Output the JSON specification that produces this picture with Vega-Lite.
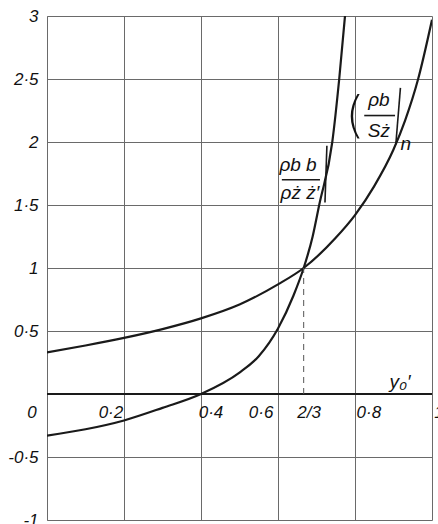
{
  "$schema": "https://vega.github.io/schema/vega-lite/v6.json",
  "width": 385,
  "height": 504,
  "autosize": {"type": "none"},
  "padding": {"left": 47, "top": 16, "right": 6, "bottom": 4},
  "background": "white",
  "config": {"view": {"stroke": null}, "font": "Liberation Sans"},
  "datasets": {
    "curves": [
      {"series": "n", "x": 0, "y": 0.33},
      {"series": "n", "x": 0.1, "y": 0.385},
      {"series": "n", "x": 0.2, "y": 0.445},
      {"series": "n", "x": 0.3, "y": 0.515},
      {"series": "n", "x": 0.4, "y": 0.6},
      {"series": "n", "x": 0.5, "y": 0.71},
      {"series": "n", "x": 0.6, "y": 0.87},
      {"series": "n", "x": 0.6667, "y": 1.0},
      {"series": "n", "x": 0.75, "y": 1.24},
      {"series": "n", "x": 0.8, "y": 1.42},
      {"series": "n", "x": 0.85, "y": 1.65},
      {"series": "n", "x": 0.9, "y": 1.94},
      {"series": "n", "x": 0.93, "y": 2.17},
      {"series": "n", "x": 0.964, "y": 2.5},
      {"series": "n", "x": 1.0, "y": 2.97},
      {"series": "b", "x": 0, "y": -0.33},
      {"series": "b", "x": 0.1, "y": -0.28},
      {"series": "b", "x": 0.2, "y": -0.21},
      {"series": "b", "x": 0.3, "y": -0.11},
      {"series": "b", "x": 0.4, "y": 0.0},
      {"series": "b", "x": 0.5, "y": 0.17},
      {"series": "b", "x": 0.55, "y": 0.3},
      {"series": "b", "x": 0.6, "y": 0.52},
      {"series": "b", "x": 0.64, "y": 0.78},
      {"series": "b", "x": 0.6667, "y": 1.0},
      {"series": "b", "x": 0.69, "y": 1.25},
      {"series": "b", "x": 0.707, "y": 1.5},
      {"series": "b", "x": 0.741, "y": 2.0},
      {"series": "b", "x": 0.759, "y": 2.5},
      {"series": "b", "x": 0.774, "y": 3.0}
    ],
    "xlabels": [
      {"x": -0.039, "t": "0"},
      {"x": 0.166, "t": "0·2"},
      {"x": 0.426, "t": "0·4"},
      {"x": 0.556, "t": "0·6"},
      {"x": 0.681, "t": "2/3"},
      {"x": 0.836, "t": "0·8"},
      {"x": 1.018, "t": "1"}
    ],
    "formula": [
      {"x": 0.652, "y": 1.82, "t": "ρb b"},
      {"x": 0.657, "y": 1.595, "t": "ρż ż′"},
      {"x": 0.862, "y": 2.335, "t": "ρb"},
      {"x": 0.862, "y": 2.087, "t": "Sż"},
      {"x": 0.932, "y": 1.985, "t": "n"},
      {"x": 0.917, "y": 0.095, "t": "y₀′"}
    ],
    "paren": [
      {"x": 0.8, "y": 2.2, "t": "("}
    ],
    "strokes": [
      {"x": 0.61, "x2": 0.709, "y": 1.7, "y2": 1.7},
      {"x": 0.824, "x2": 0.904, "y": 2.21, "y2": 2.21},
      {"x": 0.727, "x2": 0.722, "y": 1.97, "y2": 1.52},
      {"x": 0.918, "x2": 0.906, "y": 2.43, "y2": 1.98},
      {"x": 0.88, "x2": 0.96, "y": 0.0, "y2": 0.0}
    ]
  },
  "layer": [
    {
      "data": {"name": "curves"},
      "mark": {"type": "line", "interpolate": "monotone", "strokeWidth": 2.2, "color": "#1a1a1a", "clip": true},
      "encoding": {
        "x": {
          "field": "x", "type": "quantitative",
          "scale": {"domain": [0, 1], "nice": false, "zero": false},
          "axis": {
            "values": [0, 0.2, 0.4, 0.6, 0.8, 1],
            "grid": true, "gridColor": "#6a6a6a", "gridWidth": 1,
            "labels": false, "ticks": false, "domain": false, "title": null
          }
        },
        "y": {
          "field": "y", "type": "quantitative",
          "scale": {"domain": [-1, 3], "nice": false, "zero": false},
          "axis": {
            "values": [-1, -0.5, 0, 0.5, 1, 1.5, 2, 2.5, 3],
            "grid": true, "gridColor": "#6a6a6a", "gridWidth": 1,
            "ticks": false, "domain": true, "domainColor": "#6a6a6a",
            "title": null,
            "labelExpr": "datum.value == 0 ? '' : replace(replace(format(datum.value, '.1~f'), '.', '·'), '−', '-')",
            "labelFont": "Liberation Sans", "labelFontStyle": "italic",
            "labelFontSize": 17, "labelColor": "#111", "labelPadding": 9
          }
        },
        "detail": {"field": "series", "type": "nominal"}
      }
    },
    {
      "data": {"values": [{}]},
      "mark": {"type": "rule", "color": "#1a1a1a", "strokeWidth": 2},
      "encoding": {"y": {"datum": 0}}
    },
    {
      "data": {"values": [{}]},
      "mark": {"type": "rule", "color": "#555", "strokeWidth": 1, "strokeDash": [6, 5]},
      "encoding": {"x": {"datum": 0.6667}, "y": {"datum": 0}, "y2": {"datum": 1}}
    },
    {
      "data": {"name": "strokes"},
      "mark": {"type": "rule", "color": "#1a1a1a", "strokeWidth": 1.6},
      "encoding": {
        "x": {"field": "x", "type": "quantitative"},
        "x2": {"field": "x2"},
        "y": {"field": "y", "type": "quantitative"},
        "y2": {"field": "y2"}
      }
    },
    {
      "data": {"name": "xlabels"},
      "mark": {"type": "text", "font": "Liberation Sans", "fontStyle": "italic", "fontSize": 17, "color": "#111", "align": "center", "baseline": "middle"},
      "encoding": {
        "x": {"field": "x", "type": "quantitative"},
        "y": {"datum": -0.15},
        "text": {"field": "t"}
      }
    },
    {
      "data": {"name": "formula"},
      "mark": {"type": "text", "font": "Liberation Sans", "fontStyle": "italic", "fontSize": 19, "color": "#111", "align": "center", "baseline": "middle"},
      "encoding": {
        "x": {"field": "x", "type": "quantitative"},
        "y": {"field": "y", "type": "quantitative"},
        "text": {"field": "t"}
      }
    },
    {
      "data": {"name": "paren"},
      "mark": {"type": "text", "font": "DejaVu Sans", "fontSize": 50, "fontWeight": 200, "color": "#111", "align": "center", "baseline": "middle"},
      "encoding": {
        "x": {"field": "x", "type": "quantitative"},
        "y": {"field": "y", "type": "quantitative"},
        "text": {"field": "t"}
      }
    }
  ]
}
